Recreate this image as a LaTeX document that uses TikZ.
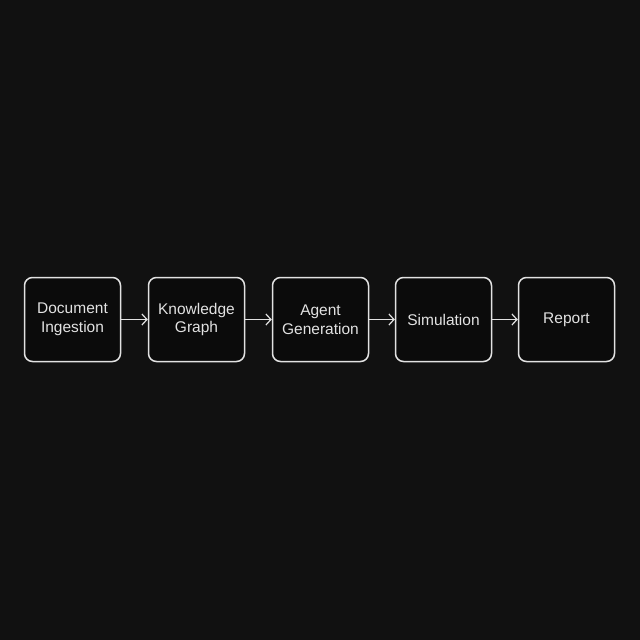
\documentclass[tikz,border=0pt]{standalone}
\usepackage{fontspec}
\setmainfont{Liberation Sans}
\usetikzlibrary{arrows.meta}
\definecolor{bgdark}{HTML}{111111}
\definecolor{boxfill}{HTML}{0B0B0B}
\definecolor{linegray}{HTML}{E2E2E2}
\tikzset{
  stage/.style={draw=linegray, line width=1.5pt, fill=boxfill, rounded corners=8pt,
    minimum width=96pt, minimum height=84pt, align=center, text=linegray,
    font=\fontsize{15.5}{18.5}\selectfont, inner sep=0pt},
  flow/.style={draw=linegray, line width=1.2pt, -{Straight Barb[length=5pt, width=11pt, line width=1.2pt]}}
}
\begin{document}
\begin{tikzpicture}[x=1pt, y=-1pt]
    \fill[bgdark] (0, 0) rectangle (640, 640);
    \path (72.5, 319.5) node[stage](doc) {Document\\Ingestion} (196.5, 319.5) node[stage](kg) {Knowledge\\Graph} (320.5, 319.5) node[stage](agent) {Agent\\Generation} (443.5, 319.5) node[stage](sim) {Simulation} (566.5, 319.5) node[stage](report) {Report};
    \draw[flow] (doc) -- (kg);
    \draw[flow] (kg) -- (agent);
    \draw[flow] (agent) -- (sim);
    \draw[flow] (sim) -- (report);
\end{tikzpicture}
\end{document}
